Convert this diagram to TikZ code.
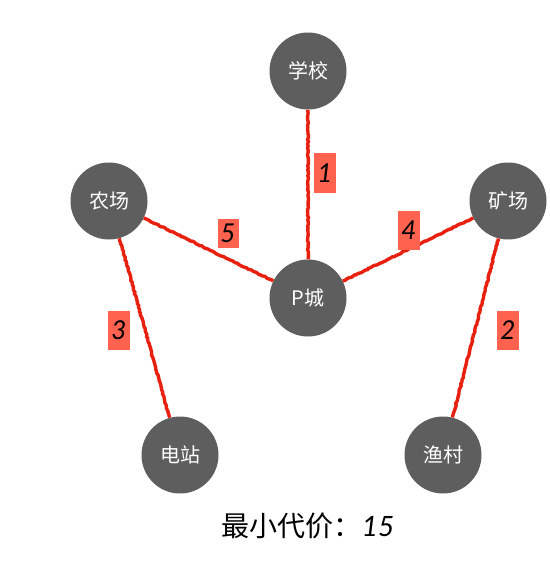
\documentclass[tikz,border=0pt]{standalone}
\usepackage{fontspec}
\newfontfamily\cjk{Noto Sans CJK SC}
\newfontfamily\numfont{Lato}
\usetikzlibrary{decorations.pathmorphing}
\definecolor{nodegray}{RGB}{94,94,94}
\definecolor{edgered}{RGB}{232,32,16}
\definecolor{labred}{RGB}{255,99,79}
\tikzset{
  city/.style={circle, fill=nodegray, minimum size=77pt, inner sep=0pt, text=white,
    font=\cjk\fontsize{20}{20}\selectfont},
  edge/.style={draw=edgered, line width=3.4pt,
    decorate, decoration={random steps, segment length=2pt, amplitude=0.5pt}},
  lab/.style={fill=labred, minimum width=22pt, minimum height=39pt, inner sep=0pt,
    font=\numfont\itshape\fontsize{26}{26}\selectfont},
}
\begin{document}
\begin{tikzpicture}[x=1pt,y=-1pt]
\useasboundingbox (0,0) rectangle (549,580);
\node[city] (school) at (308,71) {学校};
\node[city] (farm) at (109,201) {农场};
\node[city] (mine) at (508,201) {矿场};
\node[city] (pcity) at (308,298) {P城};
\node[city] (power) at (180,455) {电站};
\node[city] (fish) at (443,455) {渔村};
\draw[edge] (school) -- (pcity);
\draw[edge] (farm) -- (pcity);
\draw[edge] (mine) -- (pcity);
\draw[edge] (farm) -- (power);
\draw[edge] (mine) -- (fish);
\node[lab] (l1) at (325,173) {1};
\node[lab, minimum width=21pt, minimum height=29pt] (l5) at (228,233) {5};
\node[lab] (l4) at (409,230) {4};
\node[lab] (l3) at (119,330) {3};
\node[lab] (l2) at (508,330) {2};
\node[font=\fontsize{28}{28}\selectfont] (cost) at (308,526) {{\cjk 最小代价：}{\numfont\itshape 15}};
\end{tikzpicture}
\end{document}
